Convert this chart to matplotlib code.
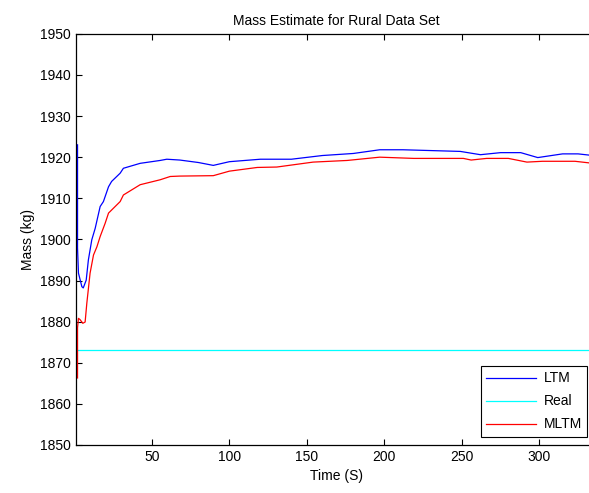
import matplotlib.pyplot as plt

# time stamps (s) and estimated mass (kg)
ltm_t = [2, 2, 2.6, 4.8, 5.7, 7.6, 9, 11.2, 13.4, 16.6, 18.7, 22, 24, 29.5, 31.6,
         42.4, 55.3, 59.6, 68, 80, 89.6, 100, 120, 140, 160, 180, 197, 212, 249,
         262, 275, 288, 299, 315, 325, 337]
ltm_m = [1923, 1897.9, 1891.8, 1888.5, 1888.2, 1890.1, 1895.0, 1899.9, 1902.7, 1908.0,
         1909.2, 1912.8, 1914.1, 1916.1, 1917.3, 1918.5, 1919.2, 1919.5, 1919.3,
         1918.7, 1918.0, 1918.9, 1919.5, 1919.5, 1920.4, 1920.9, 1921.8, 1921.8,
         1921.4, 1920.6, 1921.1, 1921.1, 1919.9, 1920.8, 1920.8, 1920.3]

mltm_t = [2, 2, 2.6, 3.6, 5.4, 6.9, 8, 10.1, 12.3, 14.5, 16.6, 19.8, 22, 29.5, 31.6,
          42.4, 55.3, 61.8, 68, 89.6, 100, 118, 130.6, 154, 176, 197, 219, 251, 256,
          266, 280, 292, 302, 323, 337]
mltm_m = [1866.3, 1878.5, 1880.8, 1880.5, 1879.6, 1879.9, 1884.5, 1891.8, 1896.2,
          1898.2, 1900.7, 1903.9, 1906.4, 1909.2, 1910.8, 1913.3, 1914.5, 1915.3,
          1915.4, 1915.5, 1916.6, 1917.5, 1917.6, 1918.8, 1919.2, 1920.0, 1919.7,
          1919.7, 1919.3, 1919.7, 1919.7, 1918.8, 1919.0, 1919.0, 1918.4]

real_mass = 1873
x_lim = [1, 337]

plt.rcParams['font.family'] = ['Liberation Sans', 'DejaVu Sans']
fig = plt.figure(figsize=(5.89, 4.93), dpi=100)
# the right edge of the axes runs a little past the image, as in the original
ax = fig.add_axes([0.129, 0.0974, 0.884, 0.834])

ax.plot(ltm_t, ltm_m, color='#0000ff', lw=0.9, label='LTM')
ax.plot(x_lim, [real_mass, real_mass], color='#00ffff', lw=0.9, label='Real')
ax.plot(mltm_t, mltm_m, color='#ff0000', lw=0.9, label='MLTM')

ax.set_xlim(x_lim)
ax.set_ylim(1850, 1950)
ax.set_xticks(range(50, 301, 50))
ax.set_yticks(range(1850, 1951, 10))
ax.tick_params(direction='in', top=True, right=True, labelsize=10, length=4, width=0.8)
for s in ax.spines.values():
    s.set_linewidth(0.9)

ax.set_title('Mass Estimate for Rural Data Set', fontsize=10)
ax.set_xlabel('Time (S)', fontsize=10)
ax.set_ylabel('Mass (kg)', fontsize=10)

leg = ax.legend(loc='lower right', bbox_to_anchor=(0.997, 0.1136),
                bbox_transform=fig.transFigure, fontsize=10, fancybox=False,
                framealpha=1, edgecolor='black', borderaxespad=0, handlelength=3.6,
                handletextpad=0.5, labelspacing=0.65)
leg.get_frame().set_linewidth(0.8)

fig.savefig('out.png', dpi=100)
